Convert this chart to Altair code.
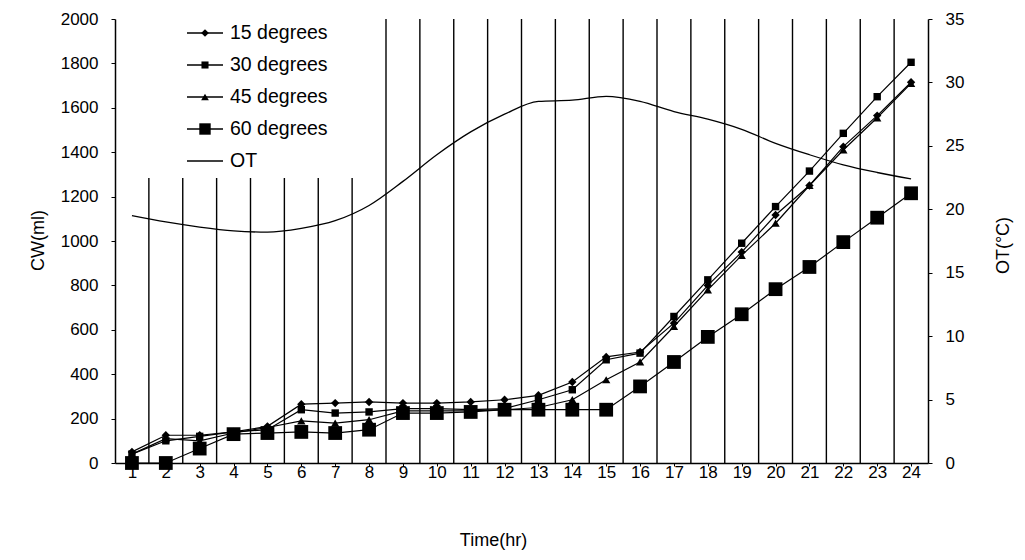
import altair as alt
import pandas as pd

hours = list(range(1, 25))
cw_15 = [50, 125, 125, 140, 165, 265, 270, 275, 270, 270, 275, 285, 305, 365, 478, 500, 630, 800, 950, 1117, 1250, 1425, 1565, 1715]
cw_30 = [40, 100, 120, 140, 150, 240, 225, 230, 245, 245, 240, 245, 285, 330, 465, 495, 660, 825, 990, 1155, 1315, 1485, 1650, 1805]
cw_45 = [40, 110, 100, 135, 160, 190, 180, 195, 235, 235, 235, 240, 250, 285, 375, 455, 615, 780, 935, 1080, 1250, 1410, 1555, 1710]
cw_60 = [0, 0, 65, 130, 135, 140, 135, 150, 225, 225, 230, 240, 240, 240, 240, 345, 455, 568, 670, 783, 883, 995, 1105, 1215]
ot_vals = [19.5, 19.0, 18.6, 18.3, 18.2, 18.5, 19.1, 20.3, 22.2, 24.3, 26.1, 27.5, 28.5, 28.6, 28.9, 28.5, 27.7, 27.1, 26.3, 25.2, 24.3, 23.5, 22.9, 22.4]
series_names = ["15 degrees", "30 degrees", "45 degrees", "60 degrees"]
legend_names = series_names + ["OT"]
cw_ticks = list(range(0, 2001, 200))
ot_ticks = list(range(0, 36, 5))

FONT = "Liberation Sans"
SIZE_EXPR = "datum.series == '60 degrees' ? 190 : (datum.series == '30 degrees' ? 55 : 70)"
LEG_SIZE_EXPR = "datum.series == '60 degrees' ? 130 : (datum.series == '30 degrees' ? 50 : 60)"

rows = []
for name, vals in zip(series_names, [cw_15, cw_30, cw_45, cw_60]):
    for h, v in zip(hours, vals):
        rows.append({"hour": h, "cw": v, "series": name})
cw_df = pd.DataFrame(rows)
ot_df = pd.DataFrame({"hour": hours, "ot": ot_vals})
grid_df = pd.DataFrame({"hour": [h + 0.5 for h in hours[:-1]]})
leg_df = pd.DataFrame({"series": legend_names, "row": list(range(len(legend_names)))})

xscale = alt.Scale(domain=[0.5, 24.5], nice=False, zero=False)
shape_scale = alt.Scale(domain=series_names, range=["diamond", "square", "triangle-up", "square"])

x_axis = alt.Axis(values=hours, title="Time(hr)", grid=False, tickSize=3, labelPadding=6,
                  labelBaseline="middle", labelFontSize=17, labelFont=FONT, labelColor="black",
                  titleFont=FONT, titleFontSize=18, titleFontWeight="normal", titleColor="black",
                  titleX=378, titleY=77, titleBaseline="middle", titleAlign="center",
                  domainColor="black", domainWidth=1.5, tickColor="black", format="d")
X = alt.X("hour:Q", scale=xscale, axis=x_axis)

rules = alt.Chart(grid_df).mark_rule(color="black", strokeWidth=1.4).encode(x=X)

white_box = alt.Chart(pd.DataFrame({"a": [0]})).mark_rect(fill="white").encode(
    x=alt.value(2), x2=alt.value(252), y=alt.value(0), y2=alt.value(159)
)

y_cw = alt.Y("cw:Q", scale=alt.Scale(domain=[0, 2000], nice=False),
             axis=alt.Axis(values=cw_ticks, title="CW(ml)", grid=False, tickSize=4, labelPadding=13,
                           labelFontSize=17, labelFont=FONT, labelColor="black", format="d",
                           titleFont=FONT, titleFontSize=18, titleFontWeight="normal", titleColor="black",
                           titleAngle=270, titleX=-77, titleY=221, titleAlign="center", titleBaseline="middle",
                           domainColor="black", domainWidth=1.5, tickColor="black"))

cw_line = alt.Chart(cw_df).mark_line(color="black", strokeWidth=1.2).encode(
    x=X, y=y_cw, detail="series:N"
)
cw_pts = alt.Chart(cw_df).transform_calculate(sz=SIZE_EXPR).mark_point(
    filled=True, color="black", opacity=1).encode(
    x=X, y=y_cw,
    shape=alt.Shape("series:N", scale=shape_scale, legend=None),
    size=alt.Size("sz:Q", scale=None, legend=None),
)
cw_layer = alt.layer(cw_line, cw_pts)

ot_line = alt.Chart(ot_df).mark_line(color="black", strokeWidth=1.3, interpolate="monotone").encode(
    x=X,
    y=alt.Y("ot:Q", scale=alt.Scale(domain=[0, 35], nice=False),
            axis=alt.Axis(orient="right", values=ot_ticks, title="OT(°C)", grid=False, tickSize=4,
                          labelPadding=13, labelFontSize=17, labelFont=FONT, labelColor="black",
                          titleFont=FONT, titleFontSize=18, titleFontWeight="normal", titleColor="black",
                          titleAngle=270, titleX=75, titleY=226, titleAlign="center", titleBaseline="middle",
                          domainColor="black", domainWidth=1.5, tickColor="black")),
)

leg_base = alt.Chart(leg_df).transform_calculate(ly="datum.row * 32 + 14")
leg_rule = leg_base.mark_rule(color="black", strokeWidth=1.3).encode(
    x=alt.value(72), x2=alt.value(108), y=alt.Y("ly:Q", scale=None)
)
leg_pts = leg_base.transform_filter(alt.FieldOneOfPredicate(field="series", oneOf=series_names)).transform_calculate(
    sz=LEG_SIZE_EXPR).mark_point(filled=True, color="black", opacity=1).encode(
    x=alt.value(90), y=alt.Y("ly:Q", scale=None),
    shape=alt.Shape("series:N", scale=shape_scale, legend=None),
    size=alt.Size("sz:Q", scale=None, legend=None),
)
leg_text = leg_base.mark_text(align="left", baseline="middle", font=FONT, fontSize=19.5, color="black").encode(
    x=alt.value(115), y=alt.Y("ly:Q", scale=None), text="series:N"
)

chart = alt.layer(rules, white_box, cw_layer, ot_line, leg_rule, leg_pts, leg_text).resolve_scale(
    y="independent"
).properties(
    width=813, height=444,
    padding={"left": 115, "top": 19, "right": 97, "bottom": 97},
    autosize=alt.AutoSizeParams(type="none"),
    background="white",
).configure_view(stroke=None)

chart.save("out.html", embed_options={"renderer": "svg", "actions": False})
